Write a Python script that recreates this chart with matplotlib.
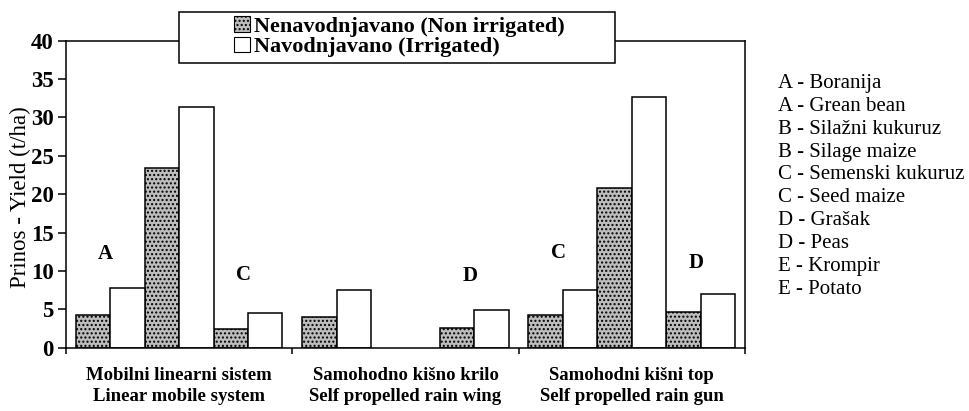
import numpy as np
import matplotlib
matplotlib.use("Agg")
import matplotlib.pyplot as plt
from matplotlib.patches import Patch, Rectangle

plt.rcParams['font.family'] = ['Liberation Serif', 'DejaVu Serif']

# data
systems = ["Mobilni linearni sistem\nLinear mobile system",
           "Samohodno kišno krilo\nSelf propelled rain wing",
           "Samohodni kišni top\nSelf propelled rain gun"]
# three crop pairs per system (nan = no bar)
non_irrigated = [4.2, 23.4, 2.4, 4.0, np.nan, 2.6, 4.3, 20.8, 4.7]
irrigated = [7.8, 31.4, 4.5, 7.5, np.nan, 4.9, 7.5, 32.6, 7.0]
# crop letters written above some pairs: (pair index, letter, y)
pair_letters = [(0, "A", 12.2), (2, "C", 9.5), (5, "D", 9.4),
                (6, "C", 12.4), (8, "D", 11.0)]
crop_key = ["A - Boranija", "A - Grean bean",
            "B - Silažni kukuruz", "B - Silage maize",
            "C - Semenski kukuruz", "C - Seed maize",
            "D - Grašak", "D - Peas",
            "E - Krompir", "E - Potato"]
series_names = ["Nenavodnjavano (Non irrigated)", "Navodnjavano (Irrigated)"]

fig = plt.figure(figsize=(9.7, 4.11), dpi=100)
ax = fig.add_axes([0.068, 0.154, 0.700, 0.747])

w = 0.1522
stipple = dict(facecolor="#bdbdbd", edgecolor="black", hatch="....", linewidth=1.1)
plain = dict(facecolor="white", edgecolor="black", linewidth=1.1)

pairs = np.arange(len(non_irrigated))
group = pairs // 3
slot = pairs % 3
centers = group + 0.5 + (slot - 1) * 2 * w
ax.bar(centers - w / 2, non_irrigated, width=w, **stipple)
ax.bar(centers + w / 2, irrigated, width=w, **plain)

for i, letter, y in pair_letters:
    ax.text(centers[i] - 0.02, y, letter, ha="center", va="center",
            fontsize=15, fontweight="bold")

ax.set_xlim(0, 3)
ax.set_ylim(0, 40)
ax.set_yticks(range(0, 41, 5))
ax.set_xticks([0, 1, 2, 3], labels=[])
ax.set_xticks([0.5, 1.5, 2.5], labels=systems, minor=True)
ax.tick_params(axis="x", which="major", direction="out", length=4.5, width=1.1)
ax.tick_params(axis="x", which="minor", length=0, pad=14)
ax.tick_params(axis="y", direction="out", length=6, width=1.1, labelsize=16.5, pad=3)
for lab in ax.get_yticklabels():
    lab.set_fontweight("bold")
for lab in ax.get_xticklabels(minor=True):
    lab.set_fontweight("bold")
    lab.set_fontsize(13.5)
    lab.set_linespacing(1.3)
for s in ax.spines.values():
    s.set_linewidth(1.1)

ax.set_ylabel("Prinos - Yield (t/ha)", fontsize=16.5)
ax.yaxis.set_label_coords(-0.052, 0.49)

# legend with its own box
box = Rectangle((179 / 970, 1 - 63.3 / 411), (615 - 179) / 970, 51.6 / 411,
                transform=fig.transFigure, facecolor="white", edgecolor="black",
                linewidth=1.1, zorder=3)
fig.add_artist(box)
handles = [Patch(**{**stipple, "linewidth": 0.8}), Patch(**{**plain, "linewidth": 0.8})]
leg = fig.legend(handles, series_names, loc="upper left",
                 bbox_to_anchor=(234 / 970, 1 - 16 / 411), frameon=False,
                 handlelength=0.7, handleheight=0.7, handletextpad=0.2,
                 labelspacing=0.0, borderpad=0, borderaxespad=0,
                 prop={"size": 16, "weight": "bold"})
leg.set_zorder(5)

for i, txt in enumerate(crop_key):
    fig.text(778 / 970, 1 - (83.3 + i * 22.9) / 411, txt, fontsize=15,
             ha="left", va="center")

fig.savefig("out.png", dpi=100)
